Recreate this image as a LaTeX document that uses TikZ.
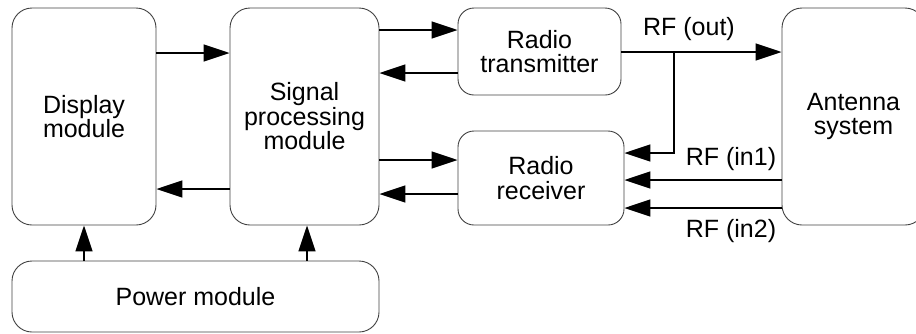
\documentclass[tikz,border=0pt]{standalone}
\usepackage{fontspec}
\setmainfont{Liberation Sans}
\usetikzlibrary{arrows.meta}
\begin{document}
\begin{tikzpicture}[x=1pt,y=-1pt,
  box/.style={draw=black!75,line width=0.9pt,rounded corners=20pt,inner sep=0pt,
    align=center,font=\fontsize{25}{24.5}\selectfont},
  arr/.style={line width=1.6pt,-{Triangle[length=26pt,width=17pt]}},
  lab/.style={font=\fontsize{25}{24.5}\selectfont,inner sep=0pt}]
\useasboundingbox (0,0) rectangle (916,333);
\clip (0,0) rectangle (916,333);
\node[box,minimum width=144pt,minimum height=217pt] (disp) at (84,116.5) {Display\\module};
\node[box,minimum width=149pt,minimum height=217pt] (sp) at (304.5,116.5) {Signal\\processing\\module};
\node[box,minimum width=367pt,minimum height=71pt] (pow) at (195.5,296.5) {Power module};
\node[box,rounded corners=16pt,minimum width=163pt,minimum height=87pt] (tx) at (539.5,51.5) {Radio\\transmitter};
\node[box,rounded corners=16pt,minimum width=166pt,minimum height=94pt] (rx) at (541,178) {Radio\\receiver};
\node[box,minimum width=143pt,minimum height=217pt] (ant) at (853.5,116.5) {Antenna\\system};
% connectors
\draw[arr] (disp.east |- 0,53) -- (sp.west |- 0,53);
\draw[arr] (sp.west |- 0,189) -- (disp.east |- 0,189);
\draw[arr] (sp.east |- 0,30) -- (tx.west |- 0,30);
\draw[arr] (tx.west |- 0,73) -- (sp.east |- 0,73);
\draw[arr] (sp.east |- 0,160) -- (rx.west |- 0,160);
\draw[arr] (rx.west |- 0,194) -- (sp.east |- 0,194);
\draw[arr] (pow.north -| disp.south) -- (disp.south);
\draw[arr] (pow.north -| 307,0) -- (sp.south -| 307,0);
\draw[arr] (tx.east |- 0,52) -- (ant.west |- 0,52);
\coordinate (br) at (674,52);
\draw[arr] (br) -- (674,153) -- (rx.east |- 0,153);
\draw[arr] (ant.west |- 0,180) -- (rx.east |- 0,180);
\draw[arr] (ant.west |- 0,208) -- (rx.east |- 0,208);
% labels
\node[lab] (lout) at (689,29) {RF (out)};
\node[lab] (lin1) at (731,159) {RF (in1)};
\node[lab] (lin2) at (731,231) {RF (in2)};
\end{tikzpicture}
\end{document}
